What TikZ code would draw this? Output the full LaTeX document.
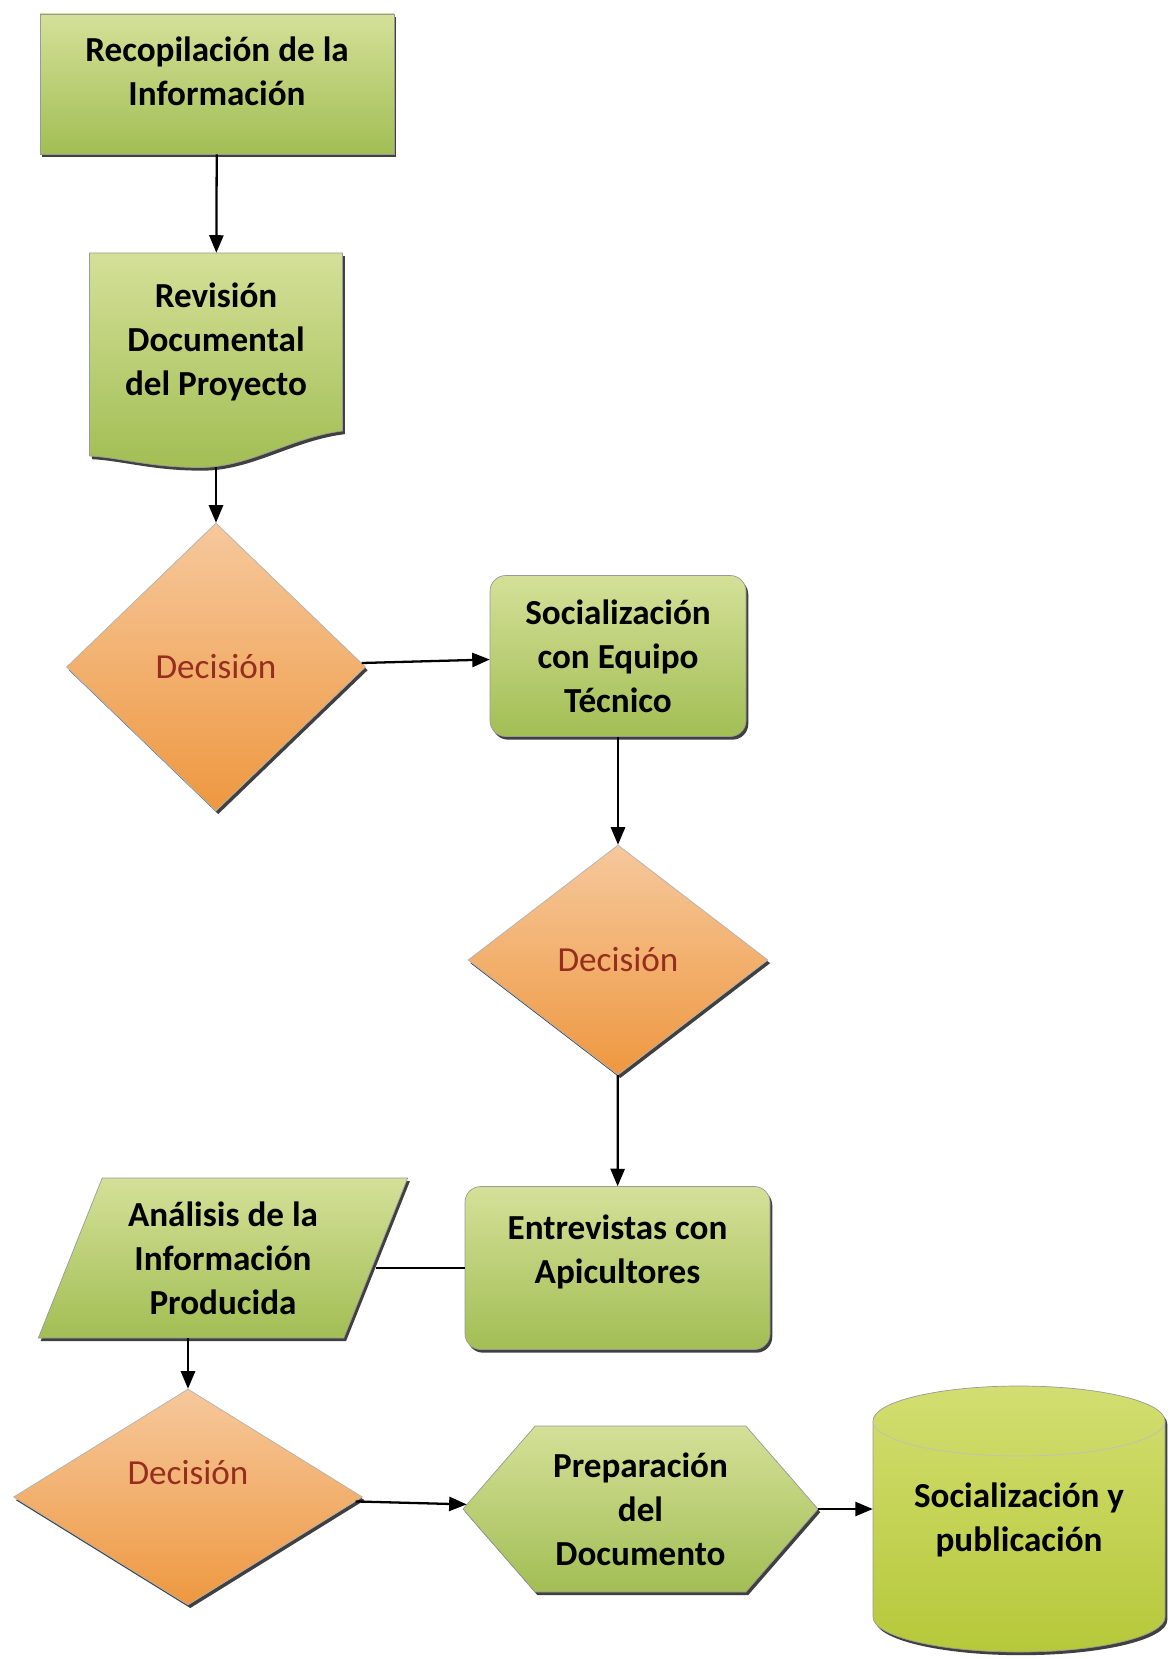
\documentclass[tikz,border=0pt]{standalone}
\usepackage{fontspec}
\setmainfont{Carlito}
\usetikzlibrary{arrows}
\usetikzlibrary{shapes}
\usetikzlibrary{shadows}

\definecolor{grnA}{RGB}{212,224,152}
\definecolor{grnB}{RGB}{162,190,84}
\definecolor{ylwA}{RGB}{210,222,112}
\definecolor{ylwB}{RGB}{182,200,58}
\definecolor{orgA}{RGB}{246,200,156}
\definecolor{orgB}{RGB}{238,152,64}
\definecolor{decred}{RGB}{150,45,30}

\tikzset{
  shd/.style={drop shadow={shadow xshift=1.3pt, shadow yshift=-1.8pt, fill=black, opacity=.75}},
  txt/.style={align=center, font=\bfseries\fontsize{20}{25}\selectfont, inner sep=0pt},
  proc/.style={txt, shd, draw=black!40, top color=grnA, bottom color=grnB},
  dectxt/.style={text=decred, font=\fontsize{20}{25}\selectfont},
  decis/.style={shape=diamond, shd, draw=black!30, top color=orgA, bottom color=orgB, dectxt, inner sep=0pt},
  flow/.style={-triangle 45, line width=1.3pt},
}

\begin{document}
\begin{tikzpicture}
    \useasboundingbox (0, 0) rectangle (23.5, -33.18);

    % shapes drawn by hand
    \path[shd, draw=black!40, top color=grnA, bottom color=grnB] (1.79, -5.06) -- (6.85, -5.06) -- (6.85, -8.62)
        .. controls (5.8, -8.75) and (5.0, -9.35) .. (4.0, -9.35)
        .. controls (3.0, -9.35) and (2.4, -9.15) .. (1.79, -9.12) -- cycle;
    \path[shd, draw=black!40, top color=ylwA, bottom color=ylwB] (17.46, -28.42) -- (17.46, -32.34)
        arc[start angle=180, end angle=360, x radius=2.92, y radius=.7] -- (23.3, -28.42)
        arc[start angle=0, end angle=180, x radius=2.92, y radius=.7] -- cycle;
    \draw[black!25] (17.46, -28.42) arc[start angle=180, end angle=360, x radius=2.92, y radius=.7];

    \node[proc, minimum width=7.08cm, minimum height=2.8cm,
        label={[txt, yshift=.26cm]center:{Recopilación de la\\Información}}] (rec) at (4.34, -1.68) {};
    \node[txt, minimum width=5.06cm, minimum height=3.56cm] (rev) at (4.32, -6.84) {Revisión\\Documental\\del Proyecto};
    \coordinate (revbot) at (4.32, -9.34);
    \node[decis, minimum width=5.98cm, minimum height=5.76cm] (d1) at (4.32, -13.34) {Decisión};
    \node[proc, rounded corners=9pt, minimum width=5.12cm, minimum height=3.22cm] (soc) at (12.36, -13.12) {Socialización\\con Equipo\\Técnico};
    \node[decis, minimum width=6cm, minimum height=4.6cm] (d2) at (12.36, -19.2) {Decisión};
    \node[proc, rounded corners=9pt, minimum width=6.1cm, minimum height=3.26cm,
        label={[txt, yshift=.32cm]center:{Entrevistas con\\Apicultores}}] (ent) at (12.35, -25.36) {};
    \node[proc, trapezium, trapezium left angle=66, trapezium right angle=114, trapezium stretches=true,
        minimum width=7.4cm, minimum height=3.2cm] (ana) at (4.46, -25.16) {Análisis de la\\Información\\Producida};
    \node[decis, minimum width=6.98cm, minimum height=4.32cm,
        label={[dectxt, yshift=.48cm]center:Decisión}] (d3) at (3.76, -29.94) {};
    \node[proc, signal, signal to=east and west, signal pointer angle=98,
        minimum width=7.1cm, minimum height=3.32cm] (prep) at (12.81, -30.18) {Preparación\\del\\Documento};
    \node[txt, minimum width=5.84cm] (cyl) at (20.38, -30.4) {Socialización y\\publicación};

    \draw[flow] (rec) -- (rev);
    \draw[flow] (revbot) -- (d1);
    \draw[flow] (d1) -- (soc);
    \draw[flow] (soc) -- (d2);
    \draw[flow] (d2) -- (ent);
    \draw[line width=1.3pt] (ent.west) -- (ent.west -| ana.east);
    \draw[flow] (ana.south -| d3.north) -- (d3);
    \draw[flow] (d3) -- (prep);
    \draw[flow] (prep.east) -- (prep.east -| cyl.west);
\end{tikzpicture}
\end{document}
